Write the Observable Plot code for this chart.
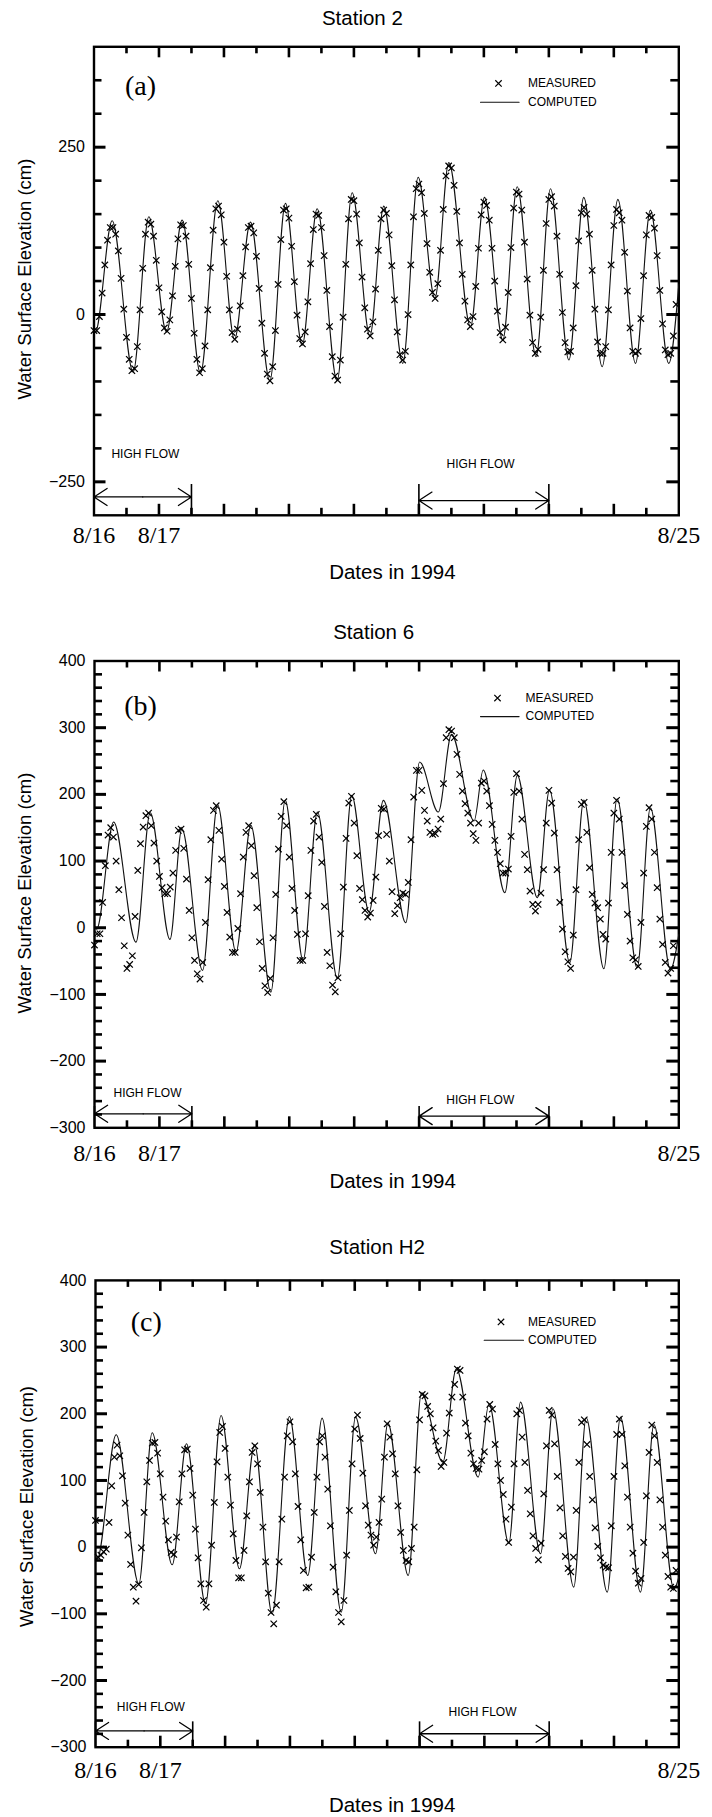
<!DOCTYPE html>
<html>
<head>
<meta charset="utf-8">
<script src="https://cdn.jsdelivr.net/npm/d3@7"></script>
<script src="https://cdn.jsdelivr.net/npm/@observablehq/plot@0.6"></script>
<style>
  html, body { margin: 0; padding: 0; background: #fff; }
  #chart { width: 712px; }
  #chart svg { display: block; }
</style>
</head>
<body>
<div id="chart"></div>
<script>
// ---------------- DATA (x = hours since 8/16 00:00, y = water surface elevation, cm) ----------------
const dateTicks = [0, 24, 216];
const dateLabels = ["8/16", "8/17", "8/25"];
const dayTicks = [24, 48, 72, 96, 120, 144, 168, 192];
const halfDayTicks = [12, 36, 60, 84, 108, 132, 156, 180, 204];
const highFlowStart = [0, 120];
const highFlowEnd = [36, 168];

const station2Labels = [-250, 0, 250];
const station2Minor = [-200, -150, -100, -50, 50, 100, 150, 200, 300, 350];
const stationLabels = [-300, -200, -100, 0, 100, 200, 300, 400];
const stationMajor = [-200, -100, 0, 100, 200, 300];
const stationMinor = [-280, -260, -240, -220, -180, -160, -140, -120, -80, -60, -40, -20,
  20, 40, 60, 80, 120, 140, 160, 180, 220, 240, 260, 280, 320, 340, 360, 380];

// Station 2 — measured, hourly from 8/16 00:00
const measured2 = [
  -24,-24,-3,32,74,111,130,130,120,95,
  54,8,-34,-67,-84,-81,-48,7,69,120,
  138,135,117,81,40,4,-20,-25,-8,28,
  72,113,134,133,117,75,24,-28,-67,-87,
  -81,-47,7,70,126,158,162,149,108,57,
  7,-27,-37,-22,13,58,101,130,132,122,
  87,39,-13,-58,-89,-99,-78,-24,45,112,
  156,158,144,102,49,-1,-36,-44,-26,19,
  76,127,150,148,130,88,36,-18,-63,-92,
  -98,-68,-4,75,143,172,170,150,107,56,
  10,-22,-32,-11,38,96,143,156,151,119,
  73,22,-26,-60,-68,-55,0,74,146,188,
  195,182,151,106,63,33,24,46,96,157,
  207,222,219,193,154,107,60,20,-8,-18,
  -3,42,99,149,168,163,141,99,50,5,
  -27,-38,-19,33,100,159,183,180,156,108,
  53,-1,-42,-58,-52,-4,66,136,172,176,
  162,117,60,3,-42,-56,-55,-20,43,110,
  152,160,150,120,66,8,-41,-58,-58,-48,
  7,74,133,157,152,141,93,35,-20,-55,
  -58,-55,-6,58,119,148,145,129,88,36,
  -14,-53,-60,-58,-32,15
];
// Station 2 — computed, turning points [hour, cm]
const computed2 = [
  [0,-22],[0.5,-26],[6.71,140],[14.47,-86],[20.25,146],[26.78,-26],[32.56,141],[39.33,-88],
  [45.73,170],[51.89,-37],[57.8,138],[64.94,-99],[70.72,166],[76.88,-46],[82.42,158],[89.8,-99],
  [95.35,182],[101.9,-32],[107.04,162],[114.07,-73],[119.73,205],[125.9,24],[131.06,227],[139.06,-18],
  [144.23,175],[151.0,-38],[156.3,191],[163.3,-63],[168.6,188],[175.4,-68],[180.9,175],[187.7,-78],
  [193.5,172],[200.0,-73],[205.5,156],[212.3,-73],[216,45]
];

// Station 6 — measured, hourly from 8/16 00:00
const measured6 = [
  -26,-9,-9,38,93,139,150,136,100,57,
  15,-27,-61,-55,-42,17,86,126,151,168,
  172,153,127,100,77,60,51,51,61,82,
  116,146,148,119,73,26,-15,-49,-69,-77,
  -52,8,72,132,176,183,146,103,62,23,
  -14,-37,-37,-1,51,106,143,153,123,78,
  30,-21,-61,-87,-97,-76,-15,50,118,167,
  189,153,106,59,26,-10,-49,-49,-9,48,
  116,160,170,136,98,32,-37,-57,-86,-96,
  -75,-9,61,134,187,197,157,108,59,42,
  26,16,22,41,76,138,179,178,140,100,
  54,21,33,45,52,50,68,132,196,236,
  236,206,176,160,143,140,141,148,163,216,
  285,297,295,285,260,230,205,186,172,157,
  141,131,157,217,220,205,183,155,131,113,
  96,82,82,88,137,203,231,205,163,110,
  87,55,35,25,35,52,87,157,206,187,
  142,87,38,-2,-36,-51,-61,-11,57,132,
  185,188,143,90,50,37,30,13,-10,-17,
  37,113,172,191,163,113,63,20,-20,-45,
  -48,-58,8,82,152,180,163,113,60,13,
  -25,-52,-68,-61,-27
];
const computed6 = [
  [0,2],[0.8,-2],[7.08,158.5],[15.33,-21.5],[20.6,172.5],[27.9,-17.5],[32.3,148.5],[39.95,-64],
  [45.5,184.5],[52.3,-36.5],[57.8,153.5],[65.2,-96.5],[70.5,191],[77.1,-49],[82.4,173.5],[89.8,-76.5],
  [95.1,198.5],[101.5,23.5],[106.8,191],[115.06,7.5],[120.2,248.5],[127.1,173.5],[132.0,290],[140.3,160],
  [143.7,236.5],[151.7,52.5],[156.3,228.5],[163.7,45],[168.2,206.5],[175.7,-52.5],[180.9,191.5],[188.3,-61.5],
  [193.2,193.5],[200.6,-60],[205.5,180],[212.9,-62.5],[216,-10]
];

// Station H2 — measured, hourly from 8/16 00:00
const measuredH2 = [
  40,-15,-12,-7,-3,37,92,135,153,137,
  107,66,18,-26,-60,-81,-56,-1,52,98,
  130,156,157,141,110,75,39,11,-8,-11,
  15,68,110,146,147,118,78,27,-16,-55,
  -80,-90,-55,3,67,128,172,181,148,105,
  63,20,-20,-46,-46,-5,47,98,142,152,
  125,82,30,-22,-69,-98,-115,-87,-22,42,
  105,167,188,158,110,61,11,-35,-61,-60,
  -15,52,105,158,167,135,87,32,-30,-67,
  -98,-112,-80,-12,55,125,177,198,163,111,
  62,33,18,3,15,37,72,135,185,165,
  140,110,62,22,-5,-20,-22,-2,30,116,
  191,229,227,211,200,179,159,145,121,127,
  171,201,225,244,267,265,225,186,167,141,
  125,118,117,130,143,192,214,207,154,125,
  100,79,42,7,60,125,200,205,165,127,
  85,50,17,-2,-19,6,80,152,205,198,
  155,106,59,17,-14,-32,-37,-15,55,127,
  187,191,154,106,71,29,1,-16,-27,-30,
  -31,32,106,169,192,169,122,75,30,-9,
  -36,-54,-47,7,77,142,183,167,127,71,
  30,-12,-44,-60,-62,-35
];
const computedH2 = [
  [0,-12],[0.6,-18],[7.65,168.5],[16.05,-55],[20.98,171.5],[28.39,-26.5],[33.7,155],[40.73,-85],
  [46.5,197.5],[53.3,-32.5],[58.9,153.5],[65.4,-100],[71.8,196],[78.6,-42.5],[83.9,193.5],[91.0,-97.5],
  [96.3,195],[103.7,-10],[108.3,186],[115.8,-42.5],[120.7,231],[128.6,127.5],[133.6,267.5],[141.7,105],
  [145.7,215],[153.06,6],[157.4,217.5],[164.8,-10],[169.4,207.5],[177.1,-60],[181.7,194],[189.5,-67.5],
  [194.4,195],[201.8,-67.5],[206.8,184],[214.2,-62.5],[216,-45]
];

// ---------------- LAYOUT (pixels) ----------------
const layout2 = {height: 595, top: 46.3, bottom: 80.2, left: 93.5, right: 33.7, datePad: 11,
  titleDx: -24, titleDy: -28.4, tagDx: 46.5, tagDy: 39.4,
  legDx: 404.5, legTextDx: 434, legDy1: 36.6, legLineDx: 386.5, legLineLen: 38.6, legDy2: 55.5,
  ylabDx: -68.5, ylabDy: -2, xlabDx: 6, xlabDy: 57.2,
  arrowY: [-272.6, -278], labelX: [19.0, 142.8], labelY: [-208.7, -223.6], barTop: -254};
const layout6 = {height: 600, top: 65.5, bottom: 67.7, left: 94, right: 33.7, datePad: 16.5,
  titleDx: -13, titleDy: -28.7, tagDx: 46, tagDy: 45.3,
  legDx: 403, legTextDx: 431, legDy1: 37.1, legLineDx: 386, legLineLen: 38.6, legDy2: 55.6,
  ylabDx: -69, ylabDy: -1.3, xlabDx: 6, xlabDy: 53.7,
  arrowY: [-279, -282.5], labelX: [19.6, 142.6], labelY: [-247.5, -258.6], barTop: -268};
const layoutH2 = {height: 622, top: 84.9, bottom: 70.3, left: 95, right: 33.7, datePad: 14,
  titleDx: -10, titleDy: -32.9, tagDx: 50.8, tagDy: 42.1,
  legDx: 405.5, legTextDx: 432.6, legDy1: 41.5, legLineDx: 388.7, legLineLen: 39.3, legDy2: 59.8,
  ylabDx: -68, ylabDy: -7.3, xlabDx: 5, xlabDy: 58,
  arrowY: [-275.6, -279.8], labelX: [20.5, 143.3], labelY: [-240.3, -248], barTop: -262};

const SANS = "'Liberation Sans', Arial, Helvetica, sans-serif";
const SERIF = "'Liberation Serif', 'Times New Roman', Times, serif";
const lineShape = {draw(ctx, l) { ctx.moveTo(0, 0); ctx.lineTo(0, -l); }};
const X0 = 0, X1 = 216, Y0 = -300, Y1 = 400;

function panel(p) {
  const L = p.layout;
  const plotW = 712 - L.left - L.right;
  const plotH = L.height - L.top - L.bottom;
  // inward tick marks: full-span tick marks trimmed by pixel insets
  const yTick = (values, len, sw) => [
    Plot.tickY(values, {y: d => d, insetRight: plotW - len, stroke: "#000", strokeWidth: sw}),
    Plot.tickY(values, {y: d => d, insetLeft: plotW - len, stroke: "#000", strokeWidth: sw})
  ];
  const xTick = (values, len, sw) => [
    Plot.tickX(values, {x: d => d, insetBottom: plotH - len, stroke: "#000", strokeWidth: sw}),
    Plot.tickX(values, {x: d => d, insetTop: plotH - len, stroke: "#000", strokeWidth: sw})
  ];
  const measured = p.measured.map((value, hour) => ({hour, value}));
  const computed = p.computed.map(([hour, value]) => ({hour, value}));
  const flows = highFlowStart.map((start, i) => ({
    start, end: highFlowEnd[i], mid: (start + highFlowEnd[i]) / 2,
    y: L.arrowY[i], lx: L.labelX[i], ly: L.labelY[i]
  }));
  const bars = flows.flatMap(d => [{x: d.start}, {x: d.end}]);
  return Plot.plot({
    width: 712, height: L.height,
    marginTop: L.top, marginBottom: L.bottom, marginLeft: L.left, marginRight: L.right,
    style: {fontFamily: SANS, color: "#000", background: "#fff"},
    x: {domain: [X0, X1]},
    y: {domain: [Y0, Y1]},
    marks: [
      Plot.frame({strokeWidth: 2.4, stroke: "#000"}),
      Plot.axisY({anchor: "left", ticks: p.yLabels, tickSize: 0, tickPadding: 9, fontSize: 16, label: null, fill: "#000"}),
      Plot.axisX({anchor: "bottom", ticks: dateTicks, tickFormat: d => dateLabels[dateTicks.indexOf(d)],
        tickSize: 0, tickPadding: L.datePad, fontSize: 24, fontFamily: SERIF, label: null, fill: "#000"}),
      Plot.line(computed, {x: "hour", y: "value", curve: "monotone-x", stroke: "#111", strokeWidth: 1.1}),
      Plot.dot(measured, {x: "hour", y: "value", symbol: "times", r: 3, stroke: "#000", strokeWidth: 1.2}),
      Plot.ruleX(bars, {x: "x", y1: L.barTop, y2: Y0, stroke: "#000", strokeWidth: 1.6}),
      Plot.arrow(flows, {x1: "mid", y1: "y", x2: "start", y2: "y", headAngle: 66, headLength: 18, stroke: "#000", strokeWidth: 1.3}),
      Plot.arrow(flows, {x1: "mid", y1: "y", x2: "end", y2: "y", headAngle: 66, headLength: 18, stroke: "#000", strokeWidth: 1.3}),
      Plot.text(flows, {x: "lx", y: "ly", text: () => "HIGH FLOW", fontSize: 12, fill: "#000"}),
      ...yTick(p.yMajor, 12, 3), ...yTick(p.yMinor, 8, 2.6),
      ...xTick(dayTicks, 11, 2.6), ...xTick(halfDayTicks, 7, 2.6),
      Plot.text([p.title], {frameAnchor: "top", dx: L.titleDx, dy: L.titleDy, fontSize: 20.5,
        textAnchor: "middle", lineAnchor: "middle", fill: "#000"}),
      Plot.text([p.tag], {frameAnchor: "top-left", dx: L.tagDx, dy: L.tagDy, fontSize: 28, fontFamily: SERIF,
        textAnchor: "middle", lineAnchor: "middle", fill: "#000"}),
      Plot.dot([0], {frameAnchor: "top-left", dx: L.legDx, dy: L.legDy1, symbol: "times", r: 3, stroke: "#000", strokeWidth: 1.2}),
      Plot.text(["MEASURED"], {frameAnchor: "top-left", dx: L.legTextDx, dy: L.legDy1, fontSize: 12,
        textAnchor: "start", lineAnchor: "middle", fill: "#000"}),
      Plot.vector([0], {frameAnchor: "top-left", dx: L.legLineDx, dy: L.legDy2, length: L.legLineLen, rotate: 90,
        anchor: "start", shape: lineShape, stroke: "#111", strokeWidth: 1.1}),
      Plot.text(["COMPUTED"], {frameAnchor: "top-left", dx: L.legTextDx, dy: L.legDy2, fontSize: 12,
        textAnchor: "start", lineAnchor: "middle", fill: "#000"}),
      Plot.text(["Water Surface Elevation (cm)"], {frameAnchor: "left", rotate: -90, dx: L.ylabDx, dy: L.ylabDy,
        fontSize: 18.5, textAnchor: "middle", lineAnchor: "middle", fill: "#000"}),
      Plot.text(["Dates in 1994"], {frameAnchor: "bottom", dx: L.xlabDx, dy: L.xlabDy, fontSize: 20.5,
        textAnchor: "middle", lineAnchor: "middle", fill: "#000"})
    ]
  });
}

const root = document.getElementById("chart");
root.append(panel({title: "Station 2", tag: "(a)", measured: measured2, computed: computed2,
  yLabels: station2Labels, yMajor: station2Labels, yMinor: station2Minor, layout: layout2}));
root.append(panel({title: "Station 6", tag: "(b)", measured: measured6, computed: computed6,
  yLabels: stationLabels, yMajor: stationMajor, yMinor: stationMinor, layout: layout6}));
root.append(panel({title: "Station H2", tag: "(c)", measured: measuredH2, computed: computedH2,
  yLabels: stationLabels, yMajor: stationMajor, yMinor: stationMinor, layout: layoutH2}));
</script>
</body>
</html>
